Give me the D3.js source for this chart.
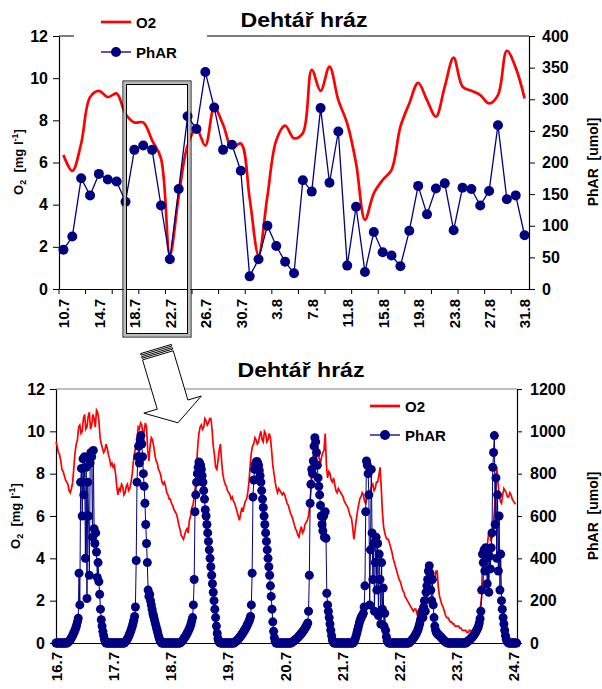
<!DOCTYPE html>
<html>
<head>
<meta charset="utf-8">
<script src="https://cdn.jsdelivr.net/npm/d3@7"></script>
<style>
  body { margin: 0; background: #fff; }
  text { font-family: "Liberation Sans", Arial, sans-serif; font-weight: bold; fill: #000; }
</style>
</head>
<body>
<svg id="chart" width="602" height="689"></svg>
<script>
const TITLE = 'Dehtář hráz';
const RED = '#ff0000';
const NAVY = '#000080';

// ---- top chart: daily readings 10.7 - 31.8 ----
const topDates = [
  '10.7','11.7','12.7','13.7','14.7','15.7','16.7','17.7','18.7','19.7','20.7',
  '21.7','22.7','23.7','24.7','25.7','26.7','27.7','28.7','29.7','30.7','31.7',
  '1.8','2.8','3.8','4.8','5.8','6.8','7.8','8.8','9.8','10.8','11.8','12.8',
  '13.8','14.8','15.8','16.8','17.8','18.8','19.8','20.8','21.8','22.8','23.8',
  '24.8','25.8','26.8','27.8','28.8','29.8','30.8','31.8'
];
const topO2 = [
  6.36,5.6,6.9,9.1,9.4,9.1,9.27,8.3,7.9,7.9,7.05,6.2,1.6,4.4,6.8,7.6,6.8,8.6,7.8,6.7,6.9,
  4.3,1.6,4.4,7.05,7.75,7.15,7.4,10.4,9.4,10.55,8.96,7.85,5.96,3.28,4.54,5.17,5.65,7.7,
  8.8,9.78,8.96,8.17,9.6,10.97,9.6,9.4,9.2,8.8,9.2,11.3,10.5,9.04
];
const topPhar = [
  62,83,175,148,182,173,170,138,220,227,220,132,47,158,273,253,343,287,220,228,187,
  20,47,100,68,43,25,172,154,286,168,249,37,130,27,90,58,53,36,92,163,118,159,167,
  93,160,158,132,155,259,142,148,85
];
const topTickEvery = 3;   // tick marks every 3 categories
const topLabelEvery = 4;  // labels every 4 categories

// ---- bottom chart: 16.7 - 24.7, O2 every 30 min, PhAR every 20 min ----
const botDayLabels = ['16.7','17.7','18.7','19.7','20.7','21.7','22.7','23.7','24.7'];
const botO2ByDay = [
  [9.5,9.3,9.0,8.9,8.6,8.2,8.1,7.9,7.7,7.6,7.5,7.2,7.1,7.3,7.6,8.3,9.0,9.4,9.6,10.2,10.3,9.9,10.0,10.6,
   10.8,10.1,10.2,10.7,10.9,10.1,10.3,10.8,10.6,10.2,11.0,10.9,10.5,9.7,9.4,9.2,9.0,9.1,9.4,9.2,8.9,8.7,8.4,8.5],
  [8.3,8.4,8.0,7.4,7.0,7.3,7.2,7.5,7.4,7.0,7.1,7.4,7.5,7.2,7.3,7.6,8.0,8.6,9.0,9.3,9.6,10.2,10.1,10.4,
   10.3,9.8,10.0,10.4,10.2,9.1,8.6,9.3,9.7,9.6,9.3,8.9,8.6,8.5,8.2,8.1,7.9,7.6,7.5,7.6,7.4,7.1,7.0,6.8],
  [6.8,6.6,6.5,6.3,6.2,6.1,5.9,5.6,5.4,5.1,5.0,4.9,5.1,5.3,5.4,5.2,5.8,6.0,6.4,6.5,6.9,7.4,8.4,9.3,
   9.9,10.2,10.3,10.1,10.2,10.6,10.5,10.3,10.4,10.6,10.6,10.1,9.3,8.9,8.3,8.2,8.6,9.1,9.4,8.6,8.0,7.7,7.5,7.4],
  [7.2,7.1,7.0,6.8,6.9,6.7,6.6,6.4,6.2,6.0,5.8,6.1,6.4,6.2,6.5,6.7,6.8,7.1,7.6,8.4,9.0,9.3,9.4,9.7,
   9.6,9.4,9.5,9.8,10.0,9.6,9.5,10.0,9.9,9.5,9.6,9.9,9.7,9.1,8.4,8.0,7.6,7.3,7.1,7.3,7.2,7.1,7.0,7.1],
  [7.0,6.8,6.6,6.5,6.3,6.1,6.0,5.8,5.6,5.4,5.3,5.1,5.0,5.3,5.5,5.2,5.3,5.6,5.7,5.8,6.0,6.5,7.2,8.1,
   8.9,8.7,8.6,9.1,9.2,8.7,8.5,8.8,9.0,9.1,9.9,8.4,7.8,8.1,8.0,7.7,7.6,7.8,7.5,7.2,7.1,7.3,7.2,7.1],
  [7.0,6.9,6.7,6.6,6.5,6.4,6.2,6.0,5.9,5.5,4.9,5.3,5.8,6.2,6.5,6.8,6.9,7.1,7.0,6.7,6.6,6.8,6.9,7.1,
   7.2,7.4,7.5,7.2,7.3,7.6,7.6,7.9,8.3,7.4,6.2,5.5,5.2,5.0,4.9,4.9,4.7,4.5,4.3,4.0,3.8,3.6,3.4,3.2],
  [3.0,2.9,2.7,2.5,2.4,2.2,2.1,2.0,1.9,1.8,1.7,1.6,1.5,1.6,1.6,1.4,1.5,1.6,1.7,1.8,1.9,2.0,2.0,2.1,
   2.2,2.4,2.6,2.9,3.3,3.1,3.0,3.4,3.4,2.6,2.2,2.0,1.8,1.7,1.5,1.3,1.2,1.2,1.1,1.0,1.0,0.9,0.9,0.8],
  [0.8,0.8,0.8,0.7,0.7,0.6,0.6,0.6,0.6,0.5,0.5,0.6,0.6,0.5,0.6,0.7,0.7,0.8,1.0,1.2,1.6,2.0,2.5,3.4,
   4.0,4.3,4.6,5.1,5.3,4.8,5.0,5.6,6.2,7.2,8.3,7.6,7.0,6.7,6.6,7.0,7.3,7.2,7.1,6.9,6.9,7.1,7.0,6.8],
  [6.7,6.6,6.6]
];
const botPharByDay = [
  [0,0,0,0,0,0,0,0,0,0,0,0,0,0,0, 3,6,10,15,22,28,36,45,52,62,72,85,100,117,
   330,180,760,825,600,870,700,880,400,830,210,760,600,320,850,900,880,500,910,540,470,520,430,310,380,290,230,160,110,80,55,35,18,6,
   0,0,0,0,0,0,0,0,0],
  [0,0,0,0,0,0,0,0,0,0,0,0,0,0,0, 4,8,14,20,28,36,45,55,66,78,92,108,125,170,
   390,760,880,930,850,960,980,940,880,800,740,660,560,470,380,250,220,230,200,180,160,140,125,110,95,80,65,50,35,22,12,5,
   0,0,0,0,0,0,0,0,0,0,0],
  [0,0,0,0,0,0,0,0,0,0,0,0,0, 3,6,10,15,20,26,32,38,45,52,60,68,78,90,105,120,
   180,300,620,700,760,800,830,855,850,840,820,790,760,720,680,630,600,560,520,480,440,400,360,320,280,240,200,160,120,80,45,20,8,2,
   0,0,0,0,0,0,0,0,0],
  [0,0,0,0,0,0,0,0,0, 3,6,9,12,16,20,25,30,35,40,46,52,58,64,70,78,86,94,102,112,125,
   180,330,690,770,820,845,855,858,852,840,815,790,760,720,680,640,600,560,520,480,440,400,360,320,270,220,160,100,55,25,8,
   0,0,0,0,0,0,0,0,0,0,0],
  [0,0,0,0,0,0,0,0,0, 3,5,8,11,14,17,20,24,28,32,36,40,45,50,55,60,66,72,78,85,95,
   150,320,660,750,820,800,860,930,970,950,900,840,780,740,700,650,600,560,530,600,500,620,495,235,180,150,120,90,60,35,15,5,
   0,0,0,0,0,0,0,0,0,0],
  [0,0,0,0,0,0,0,0,0,0,0,0,0,0,0, 5,12,22,35,50,65,80,95,108,118,126,132,140,170,270,
   620,860,840,800,700,180,440,820,520,300,470,150,380,500,250,470,130,420,300,90,380,160,260,80,140,60,30,12,4,
   0,0,0,0,0,0,0,0,0,0,0,0,0],
  [0,0,0,0,0,0,0,0,0,0,0,0,0, 3,6,10,14,18,23,28,34,40,47,55,65,78,92,110,130,150,
   120,170,200,150,240,270,300,340,365,330,250,200,300,180,120,80,60,50,45,40,38,35,30,26,22,18,14,10,7,4,2,
   0,0,0,0,0,0,0,0,0,0,0],
  [0,0,0,0,0,0,0,0,0,0,0,0,0, 3,6,9,12,15,19,23,27,32,37,42,48,55,62,70,80,95,115,150,
   250,420,380,440,340,450,400,280,430,240,410,350,450,
   520,830,900,980,560,780,400,700,340,600,250,420,200,160,120,90,60,35,18,8,3,
   0,0,0,0,0,0,0],
  [0,0,0,0]
];


const svg = d3.select('#chart');

const styleAxis = (g, size) => {
  g.attr('font-size', size).attr('font-family', null);
  g.select('.domain').attr('stroke', '#000').attr('stroke-width', 1.2);
  g.selectAll('.tick line').attr('stroke', '#000');
};

const drawTitle = (x, y) => {
  svg.append('text')
    .attr('x', x).attr('y', y)
    .attr('text-anchor', 'middle')
    .attr('font-size', 20)
    .attr('textLength', 127)
    .attr('lengthAdjust', 'spacingAndGlyphs')
    .text(TITLE);
};

// rotated axis titles
const drawO2Title = (x, y) => {
  const t = svg.append('text')
    .attr('transform', `translate(${x},${y}) rotate(-90)`)
    .attr('text-anchor', 'middle')
    .attr('font-size', 13);
  t.append('tspan').text('O');
  t.append('tspan').attr('font-size', 9).attr('dy', 3).text('2');
  t.append('tspan').attr('dy', -3).text('\u00a0 [mg l');
  t.append('tspan').attr('font-size', 9).attr('dy', -5).text('-1');
  t.append('tspan').attr('dy', 5).text(']');
};
const drawPharTitle = (x, y) => {
  svg.append('text')
    .attr('transform', `translate(${x},${y}) rotate(-90)`)
    .attr('text-anchor', 'middle')
    .attr('font-size', 14)
    .text('PhAR \u00a0[umol]');
};

const legendItem = (x, y, label, color, withDot) => {
  svg.append('line')
    .attr('x1', x).attr('x2', x + 30).attr('y1', y).attr('y2', y)
    .attr('stroke', color).attr('stroke-width', withDot ? 1.3 : 2.7);
  if (withDot) {
    svg.append('circle').attr('cx', x + 15).attr('cy', y).attr('r', 5).attr('fill', color);
  }
  svg.append('text').attr('x', x + 35).attr('y', y + 5.5).attr('font-size', 15).text(label);
};


// ================= TOP CHART =================
const topBox = {left: 59, right: 529, top: 36, bottom: 289};
const xTop = d3.scalePoint()
  .domain(d3.range(topDates.length))
  .range([topBox.left, topBox.right])
  .padding(0.5);
const yTopO2 = d3.scaleLinear().domain([0, 12]).range([topBox.bottom, topBox.top]);
const yTopPhar = d3.scaleLinear().domain([0, 400]).range([topBox.bottom, topBox.top]);

// top border of the plot
svg.append('line')
  .attr('x1', topBox.left).attr('x2', topBox.right)
  .attr('y1', topBox.top).attr('y2', topBox.top)
  .attr('stroke', '#000').attr('stroke-width', 1.2);

svg.append('g')
  .attr('transform', `translate(${topBox.left},0)`)
  .call(d3.axisLeft(yTopO2).tickValues(d3.range(0, 13, 2)).tickSize(6).tickSizeOuter(0).tickPadding(5))
  .call(g => styleAxis(g, 16));

svg.append('g')
  .attr('transform', `translate(${topBox.right},0)`)
  .call(d3.axisRight(yTopPhar).tickValues(d3.range(0, 401, 50)).tickSize(6).tickSizeOuter(0).tickPadding(7))
  .call(g => styleAxis(g, 16));

const topXAxis = svg.append('g')
  .attr('transform', `translate(0,${topBox.bottom})`)
  .call(d3.axisBottom(xTop)
    .tickValues(d3.range(0, topDates.length, topLabelEvery))
    .tickFormat(i => topDates[i])
    .tickSize(0).tickSizeOuter(0))
  .call(g => styleAxis(g, 15));
topXAxis.selectAll('.tick text')
  .attr('transform', 'rotate(-90)')
  .attr('text-anchor', 'end')
  .attr('x', -10).attr('y', 0).attr('dy', '0.36em');
topXAxis.selectAll('.tick-mark')
  .data(d3.range(0, topDates.length, topTickEvery))
  .join('line')
    .attr('x1', i => xTop(i) - xTop.step() / 2)
    .attr('x2', i => xTop(i) - xTop.step() / 2)
    .attr('y1', 0).attr('y2', 5)
    .attr('stroke', '#000');

svg.append('path')
  .datum(topO2)
  .attr('fill', 'none')
  .attr('stroke', RED)
  .attr('stroke-width', 2.7)
  .attr('d', d3.line()
    .x((d, i) => xTop(i))
    .y(d => yTopO2(d))
    .curve(d3.curveCatmullRom.alpha(0.5)));

svg.append('path')
  .datum(topPhar)
  .attr('fill', 'none')
  .attr('stroke', NAVY)
  .attr('stroke-width', 1.3)
  .attr('d', d3.line().x((d, i) => xTop(i)).y(d => yTopPhar(d)));

svg.append('g').selectAll('circle')
  .data(topPhar)
  .join('circle')
    .attr('cx', (d, i) => xTop(i))
    .attr('cy', d => yTopPhar(d))
    .attr('r', 5)
    .attr('fill', NAVY);

// legend (white box breaks the top border)
svg.append('rect').attr('x', 74).attr('y', 8).attr('width', 133).attr('height', 55).attr('fill', '#fff');
legendItem(101, 22, 'O2', RED, false);
legendItem(101, 52, 'PhAR', NAVY, true);

drawTitle(304, 27);
drawO2Title(23, 162);
drawPharTitle(598, 162);

// highlight box (the part shown below)
const hl = {x: 123, y: 81, w: 68, h: 256};
svg.append('rect').attr('x', hl.x).attr('y', hl.y).attr('width', hl.w).attr('height', hl.h)
  .attr('fill', 'none').attr('stroke', '#000').attr('stroke-width', 1);
svg.append('rect').attr('x', hl.x + 1.8).attr('y', hl.y + 1.8).attr('width', hl.w - 3.6).attr('height', hl.h - 3.6)
  .attr('fill', 'none').attr('stroke', '#b8b8b8').attr('stroke-width', 2.2);
svg.append('rect').attr('x', hl.x + 3.5).attr('y', hl.y + 3.5).attr('width', hl.w - 7).attr('height', hl.h - 7)
  .attr('fill', 'none').attr('stroke', '#000').attr('stroke-width', 1);


// ================= BOTTOM CHART =================
const botBox = {left: 56, right: 517, top: 389, bottom: 643};
const botO2 = botO2ByDay.flat();       // one value per 30 minutes
const botPhar = botPharByDay.flat();   // one value per 20 minutes
const xBot = d3.scaleLinear().domain([0, 193.5]).range([botBox.left, botBox.right]);  // hours from 16.7 0:00
const yBotO2 = d3.scaleLinear().domain([0, 12]).range([botBox.bottom, botBox.top]);
const yBotPhar = d3.scaleLinear().domain([0, 1200]).range([botBox.bottom, botBox.top]);

svg.append('line')
  .attr('x1', botBox.left).attr('x2', botBox.right)
  .attr('y1', botBox.top).attr('y2', botBox.top)
  .attr('stroke', '#808080').attr('stroke-width', 1.2);

svg.append('g')
  .attr('transform', `translate(${botBox.left},0)`)
  .call(d3.axisLeft(yBotO2).tickValues(d3.range(0, 13, 2)).tickSize(6).tickSizeOuter(0).tickPadding(5))
  .call(g => styleAxis(g, 16));

svg.append('g')
  .attr('transform', `translate(${botBox.right},0)`)
  .call(d3.axisRight(yBotPhar).tickValues(d3.range(0, 1201, 200)).tickFormat(d3.format('d'))
    .tickSize(5).tickSizeOuter(0).tickPadding(8))
  .call(g => styleAxis(g, 16));

const botXAxis = svg.append('g')
  .attr('transform', `translate(0,${botBox.bottom})`)
  .call(d3.axisBottom(xBot)
    .tickValues(d3.range(0, botDayLabels.length * 24, 24))
    .tickFormat((d, i) => botDayLabels[i])
    .tickSize(4).tickSizeOuter(0))
  .call(g => styleAxis(g, 15));
botXAxis.selectAll('.tick text')
  .attr('transform', 'rotate(-90)')
  .attr('text-anchor', 'end')
  .attr('x', -9).attr('y', 0).attr('dy', '0.36em');

svg.append('path')
  .datum(botO2)
  .attr('fill', 'none')
  .attr('stroke', RED)
  .attr('stroke-width', 1.7)
  .attr('d', d3.line().x((d, i) => xBot(i / 2)).y(d => yBotO2(d)));

svg.append('path')
  .datum(botPhar)
  .attr('fill', 'none')
  .attr('stroke', NAVY)
  .attr('stroke-width', 1)
  .attr('d', d3.line().x((d, i) => xBot(i / 3)).y(d => yBotPhar(d)));

svg.append('g').selectAll('circle')
  .data(botPhar)
  .join('circle')
    .attr('cx', (d, i) => xBot(i / 3))
    .attr('cy', d => yBotPhar(d))
    .attr('r', 4.5)
    .attr('fill', NAVY);

legendItem(370, 406, 'O2', RED, false);
legendItem(370, 435, 'PhAR', NAVY, true);

drawTitle(301, 377);
drawO2Title(20, 516);
drawPharTitle(598, 516);


// ================= ARROW between the charts =================
const arrow = svg.append('g')
  .attr('transform', 'translate(156,349) rotate(-16.6)')
  .attr('fill', '#fff')
  .attr('stroke', '#000')
  .attr('stroke-width', 0.9);
arrow.append('rect').attr('x', -16).attr('y', 0).attr('width', 32).attr('height', 1.6);
arrow.append('rect').attr('x', -16).attr('y', 3.3).attr('width', 32).attr('height', 1.6);
arrow.append('polygon')
  .attr('points', [[-16, 6.6], [16, 6.6], [16, 58], [30, 58], [0, 77], [-30, 58], [-16, 58]].join(' '));
</script>
</body>
</html>
